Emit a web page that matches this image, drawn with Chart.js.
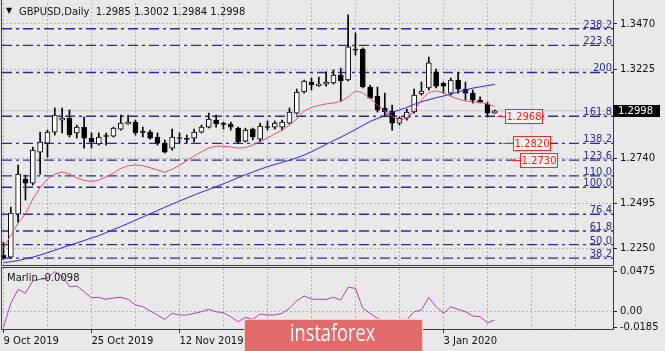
<!DOCTYPE html>
<html>
<head>
<meta charset="utf-8">
<script src="https://cdn.jsdelivr.net/npm/chart.js"></script>
<style>
  html, body { margin: 0; padding: 0; background: #e9e9e9; }
  #wrap { position: relative; width: 665px; height: 351px; overflow: hidden; background: #e9e9e9; font-family: "DejaVu Sans", sans-serif; }
  canvas { position: absolute; left: 0; }
  #main { top: 0; }
  #sub { top: 264px; }
  .txt { position: absolute; font-size: 10px; line-height: 12px; color: #111; white-space: pre; }
  #banner { position: absolute; left: 244px; top: 319px; width: 179px; height: 40px; box-sizing: border-box;
            background: #e26a6a; border: 1px solid #f2cccc; border-radius: 2px; }
  #bannerText { position: absolute; left: 45px; top: 1px; font: 23px "Open Sans", sans-serif; line-height: 23px;
                color: #fff; transform: scaleX(0.79); transform-origin: left top; white-space: pre; }
</style>
</head>
<body>
<div id="wrap">
  <canvas id="main" width="665" height="266"></canvas>
  <canvas id="sub" width="665" height="87"></canvas>
  <div class="txt" style="left:6px; top:5px; font-size:8px;">&#9660;</div>
  <div class="txt" id="title" style="left:19px; top:6px;"></div>
  <div class="txt" id="marlinLabel" style="left:7px; top:272px;"></div>
  <div id="banner"><span id="bannerText">instaforex</span></div>
</div>
<script>
// daily bars, 9 Oct 2019 .. 14 Jan 2020
const dates = [
  '9 Oct 2019', '10 Oct 2019', '11 Oct 2019', '14 Oct 2019', '15 Oct 2019', '16 Oct 2019', '17 Oct 2019', '18 Oct 2019',
  '21 Oct 2019', '22 Oct 2019', '23 Oct 2019', '24 Oct 2019', '25 Oct 2019', '28 Oct 2019', '29 Oct 2019', '30 Oct 2019',
  '31 Oct 2019', '1 Nov 2019', '4 Nov 2019', '5 Nov 2019', '6 Nov 2019', '7 Nov 2019', '8 Nov 2019', '11 Nov 2019',
  '12 Nov 2019', '13 Nov 2019', '14 Nov 2019', '15 Nov 2019', '18 Nov 2019', '19 Nov 2019', '20 Nov 2019', '21 Nov 2019',
  '22 Nov 2019', '25 Nov 2019', '26 Nov 2019', '27 Nov 2019', '28 Nov 2019', '29 Nov 2019', '2 Dec 2019', '3 Dec 2019',
  '4 Dec 2019', '5 Dec 2019', '6 Dec 2019', '9 Dec 2019', '10 Dec 2019', '11 Dec 2019', '12 Dec 2019', '13 Dec 2019',
  '16 Dec 2019', '17 Dec 2019', '18 Dec 2019', '19 Dec 2019', '20 Dec 2019', '23 Dec 2019', '24 Dec 2019', '26 Dec 2019',
  '27 Dec 2019', '30 Dec 2019', '31 Dec 2019', '2 Jan 2020', '3 Jan 2020', '6 Jan 2020', '7 Jan 2020', '8 Jan 2020',
  '9 Jan 2020', '10 Jan 2020', '13 Jan 2020', '14 Jan 2020'
];

const openP = [1.2212, 1.2202, 1.2436, 1.2626, 1.2604, 1.2773, 1.2822, 1.2882, 1.2947, 1.2958,
  1.2877, 1.2909, 1.2849, 1.2817, 1.2862, 1.2860, 1.2898, 1.2926, 1.2936, 1.2884,
  1.2882, 1.2855, 1.2822, 1.2795, 1.2852, 1.2846, 1.2849, 1.2882, 1.2909, 1.2947,
  1.2928, 1.2926, 1.2904, 1.2833, 1.2898, 1.2844, 1.2911, 1.2909, 1.2909, 1.2931,
  1.2985, 1.3100, 1.3154, 1.3134, 1.3143, 1.3149, 1.3192, 1.3165, 1.3334, 1.3334,
  1.3127, 1.3078, 1.3013, 1.2996, 1.2931, 1.2958, 1.2991, 1.3089, 1.3122, 1.3209,
  1.3149, 1.3094, 1.3165, 1.3116, 1.3094, 1.3056, 1.3034, 1.2985];
const highP = [1.2283, 1.2474, 1.2702, 1.2648, 1.2800, 1.2882, 1.2893, 1.3013, 1.3013, 1.3002,
  1.2920, 1.2964, 1.2877, 1.2877, 1.2877, 1.2909, 1.2975, 1.2975, 1.2947, 1.2909,
  1.2893, 1.2877, 1.2839, 1.2898, 1.2877, 1.2866, 1.2898, 1.2920, 1.2985, 1.2975,
  1.2936, 1.2936, 1.2909, 1.2904, 1.2904, 1.2931, 1.2942, 1.2942, 1.2947, 1.3013,
  1.3116, 1.3165, 1.3176, 1.3181, 1.3209, 1.3220, 1.3230, 1.3519, 1.3421, 1.3340,
  1.3138, 1.3127, 1.3094, 1.3029, 1.2964, 1.3007, 1.3116, 1.3154, 1.3290, 1.3225,
  1.3154, 1.3176, 1.3203, 1.3154, 1.3111, 1.3073, 1.3045, 1.3002];
const lowP = [1.2190, 1.2196, 1.2392, 1.2512, 1.2594, 1.2653, 1.2746, 1.2866, 1.2877, 1.2855,
  1.2849, 1.2795, 1.2795, 1.2811, 1.2811, 1.2855, 1.2893, 1.2924, 1.2866, 1.2855,
  1.2844, 1.2811, 1.2768, 1.2784, 1.2822, 1.2822, 1.2828, 1.2877, 1.2904, 1.2909,
  1.2898, 1.2893, 1.2822, 1.2828, 1.2839, 1.2828, 1.2893, 1.2898, 1.2893, 1.2926,
  1.2980, 1.3094, 1.3111, 1.3130, 1.3132, 1.3143, 1.3051, 1.3160, 1.3301, 1.3122,
  1.3067, 1.2991, 1.2969, 1.2893, 1.2920, 1.2947, 1.2985, 1.3083, 1.3111, 1.3122,
  1.3094, 1.3083, 1.3094, 1.3056, 1.3040, 1.3040, 1.2964, 1.2984];
const closeP = [1.2198, 1.2441, 1.2653, 1.2604, 1.2784, 1.2828, 1.2882, 1.2975, 1.2958, 1.2866,
  1.2909, 1.2849, 1.2828, 1.2855, 1.2858, 1.2904, 1.2931, 1.2936, 1.2877, 1.2880,
  1.2849, 1.2822, 1.2773, 1.2855, 1.2847, 1.2842, 1.2882, 1.2909, 1.2953, 1.2926,
  1.2924, 1.2909, 1.2828, 1.2893, 1.2855, 1.2915, 1.2907, 1.2931, 1.2936, 1.2991,
  1.3100, 1.3160, 1.3138, 1.3143, 1.3154, 1.3192, 1.3160, 1.3345, 1.3328, 1.3127,
  1.3067, 1.3002, 1.2991, 1.2931, 1.2958, 1.2991, 1.3083, 1.3105, 1.3258, 1.3132,
  1.3132, 1.3165, 1.3116, 1.3094, 1.3056, 1.3045, 1.2985, 1.2998];

// moving averages
const maFast = [1.2250, 1.2322, 1.2387, 1.2436, 1.2518, 1.2578, 1.2627, 1.2654, 1.2665, 1.2654,
  1.2632, 1.2619, 1.2613, 1.2621, 1.2638, 1.2659, 1.2684, 1.2698, 1.2703, 1.2699,
  1.2688, 1.2676, 1.2663, 1.2680, 1.2701, 1.2726, 1.2752, 1.2775, 1.2795, 1.2805,
  1.2805, 1.2801, 1.2795, 1.2798, 1.2812, 1.2831, 1.2850, 1.2872, 1.2893, 1.2921,
  1.2953, 1.2997, 1.3016, 1.3027, 1.3035, 1.3040, 1.3048, 1.3073, 1.3106, 1.3095,
  1.3065, 1.3029, 1.2997, 1.2967, 1.2945, 1.2959, 1.2997, 1.3057, 1.3097, 1.3106,
  1.3095, 1.3076, 1.3062, 1.3051, 1.3046, 1.3043, 1.3035, 1.3021];
const maSlow = [1.2172, 1.2177, 1.2183, 1.2193, 1.2202, 1.2213, 1.2226, 1.2240, 1.2253, 1.2266,
  1.2279, 1.2292, 1.2306, 1.2319, 1.2335, 1.2352, 1.2368, 1.2385, 1.2403, 1.2420,
  1.2438, 1.2455, 1.2473, 1.2490, 1.2507, 1.2523, 1.2540, 1.2555, 1.2570, 1.2585,
  1.2601, 1.2617, 1.2634, 1.2650, 1.2665, 1.2680, 1.2694, 1.2706, 1.2717, 1.2729,
  1.2742, 1.2757, 1.2775, 1.2795, 1.2815, 1.2835, 1.2854, 1.2875, 1.2896, 1.2918,
  1.2940, 1.2956, 1.2972, 1.2990, 1.3002, 1.3016, 1.3033, 1.3047, 1.3058, 1.3069,
  1.3078, 1.3089, 1.3100, 1.3111, 1.3121, 1.3128, 1.3135, 1.3141];

// Marlin oscillator
const marlin = [-0.0185, 0.0100, 0.0266, 0.0219, 0.0368, 0.0385, 0.0397, 0.0475, 0.0424, 0.0297,
  0.0305, 0.0238, 0.0166, 0.0171, 0.0147, 0.0163, 0.0171, 0.0147, 0.0080, 0.0059,
  0.0012, -0.0039, -0.0090, -0.0019, -0.0039, -0.0039, -0.0019, 0.0000, 0.0029, 0.0000,
  -0.0012, -0.0059, -0.0119, -0.0066, -0.0090, -0.0027, -0.0039, -0.0039, -0.0019, 0.0040,
  0.0131, 0.0186, 0.0151, 0.0147, 0.0147, 0.0171, 0.0139, 0.0290, 0.0278, 0.0040,
  -0.0019, -0.0078, -0.0119, -0.0158, -0.0146, -0.0099, 0.0000, 0.0020, 0.0171, 0.0059,
  -0.0019, 0.0059, 0.0029, 0.0000, -0.0051, -0.0059, -0.0131, -0.0098];

// fibonacci levels
const fibLevels = ['23.6', '38.2', '50.0', '61.8', '76.4', '100.0', '110.0', '123.6', '138.2', '161.8', '200', '223.6', '238.2'];
const fibPrices = [1.2105, 1.2196, 1.2270, 1.2344, 1.2435, 1.2582, 1.2644, 1.2729, 1.2820, 1.2968, 1.3206, 1.3353, 1.3444];
const targets = [1.2968, 1.2820, 1.2730];

const priceTicks = [1.2250, 1.2495, 1.2740, 1.3225, 1.3470];
const marlinTicks = [0.0475, 0, -0.0185];
const gridBars = [0, 6, 12, 18, 24, 30, 36, 42, 48, 54, 60, 66, 72, 78];

// layout
const X_MIN = -0.2, X_MAX = 83.12;
const Y_MIN = 1.2159, Y_MAX = 1.3584;
const SUB_MIN = -0.0205, SUB_MAX = 0.0519;
const TARGET_LINE = [2.4, 8.4, 15.7];
const TARGET_BOX = [10, 18, 25];
const FONT = '10px "DejaVu Sans"';
const last = closeP.length - 1;

document.getElementById('title').textContent =
  'GBPUSD,Daily  ' + [openP[last], highP[last], lowP[last], closeP[last]].map(v => v.toFixed(4)).join(' ');
document.getElementById('marlinLabel').textContent = 'Marlin ' + marlin[last].toFixed(4);

const pts = arr => arr.map((v, i) => ({x: i, y: v}));
const flat = v => [{x: X_MIN, y: v}, {x: X_MAX, y: v}];
const noPad = s => { s.paddingLeft = 0; s.paddingRight = 0; s.paddingTop = 0; s.paddingBottom = 0; };

const mainDecor = {
  id: 'mainDecor',
  afterDatasetsDraw(chart) {
    const {ctx, chartArea: a, scales: {x, y}} = chart;
    ctx.save();
    ctx.font = FONT;
    ctx.beginPath();
    ctx.rect(a.left, 0, a.right - a.left, a.bottom);
    ctx.clip();
    ctx.fillStyle = '#2c2c96';
    ctx.textAlign = 'right';
    ctx.textBaseline = 'alphabetic';
    fibPrices.forEach((p, k) => ctx.fillText(fibLevels[k], a.right - 1, y.getPixelForValue(p) - 1));

    const lastX = x.getPixelForValue(last);
    ctx.lineWidth = 1;
    targets.forEach((p, k) => {
      const py = Math.round(y.getPixelForValue(p)) + 0.5;
      const bx = Math.round(lastX + TARGET_BOX[k]) + 0.5;
      ctx.strokeStyle = '#f02828';
      ctx.beginPath();
      ctx.moveTo(lastX + TARGET_LINE[k], py);
      ctx.lineTo(bx, py);
      ctx.stroke();
      ctx.fillStyle = '#f5f1f1';
      ctx.fillRect(bx, py - 7, 37, 14);
      ctx.strokeRect(bx, py - 7, 37, 14);
      ctx.fillStyle = '#f01e1e';
      ctx.textAlign = 'center';
      ctx.textBaseline = 'middle';
      ctx.fillText(p.toFixed(4), bx + 18.5, py + 0.5);
    });
    ctx.restore();
  },
  afterDraw(chart) {
    const {ctx, chartArea: a, scales: {y}} = chart;
    ctx.save();
    ctx.strokeStyle = '#3a3a3a';
    ctx.lineWidth = 1;
    ctx.beginPath();
    ctx.moveTo(a.left - 0.5, 0);
    ctx.lineTo(a.left - 0.5, a.bottom + 0.5);
    ctx.lineTo(a.right + 0.5, a.bottom + 0.5);
    ctx.lineTo(a.right + 0.5, 0);
    ctx.stroke();
    const cy = Math.round(y.getPixelForValue(closeP[last]));
    ctx.fillStyle = '#000';
    ctx.fillRect(a.right, cy - 6, 47, 12);
    ctx.fillStyle = '#fff';
    ctx.font = FONT;
    ctx.textAlign = 'left';
    ctx.textBaseline = 'middle';
    ctx.fillText(closeP[last].toFixed(4), a.right + 5, cy);
    ctx.restore();
  }
};

const subBorder = {
  id: 'subBorder',
  afterDraw(chart) {
    const {ctx, chartArea: a} = chart;
    ctx.save();
    ctx.strokeStyle = '#3a3a3a';
    ctx.lineWidth = 1;
    ctx.strokeRect(a.left - 0.5, a.top - 0.5, a.right - a.left + 1, a.bottom - a.top + 1);
    ctx.restore();
  }
};

const xScale = (extra) => Object.assign({
  type: 'linear', min: X_MIN, max: X_MAX, bounds: 'data', offset: false,
  afterBuildTicks: s => { s.ticks = gridBars.map(v => ({value: v})); }
}, extra);

new Chart(document.getElementById('main'), {
  type: 'bar',
  data: {
    datasets: [
      ...fibPrices.map(p => ({
        type: 'line', data: flat(p), borderColor: '#2a2aa0', borderWidth: 1.3,
        borderDash: [10, 4, 3, 4], pointRadius: 0, order: 10
      })),
      { type: 'line', data: flat(closeP[last]), borderColor: '#c6c6c6', borderWidth: 1, pointRadius: 0, order: 9 },
      { type: 'bar', data: dates.map((d, i) => ({x: i, y: [lowP[i], highP[i]]})),
        backgroundColor: '#000', barThickness: 1, grouped: false, order: 8 },
      { type: 'bar', data: dates.map((d, i) => ({x: i, y: [openP[i], closeP[i]]})),
        backgroundColor: c => closeP[c.dataIndex] >= openP[c.dataIndex] ? '#fff' : '#000',
        borderColor: '#000', borderWidth: 1, borderSkipped: false, barThickness: 5, minBarLength: 1,
        grouped: false, order: 7 },
      { type: 'line', data: pts(maSlow), borderColor: '#2323ff', borderWidth: 1, pointRadius: 0, order: 2 },
      { type: 'line', data: pts(maFast), borderColor: '#e4506e', borderWidth: 1, pointRadius: 0, order: 1 }
    ]
  },
  options: {
    responsive: false,
    animation: false,
    events: [],
    layout: { padding: { left: 2, top: 3, right: 0, bottom: 1 } },
    plugins: { legend: { display: false }, tooltip: { enabled: false } },
    scales: {
      x: xScale({
        afterFit: s => { s.height = 0; noPad(s); },
        ticks: { display: false },
        grid: { color: '#b4b4b4', drawTicks: false, offset: false },
        border: { display: false, dash: [2, 2] }
      }),
      y: {
        type: 'linear', position: 'right', min: Y_MIN, max: Y_MAX, bounds: 'data',
        afterBuildTicks: s => { s.ticks = priceTicks.map(v => ({value: v})); },
        afterFit: s => { s.width = 52; noPad(s); },
        ticks: { callback: v => v.toFixed(4), color: '#111', font: { family: 'DejaVu Sans', size: 10 }, padding: 3 },
        grid: { color: '#b4b4b4', tickLength: 4, tickColor: '#222' },
        border: { display: false, dash: [2, 2] }
      }
    }
  },
  plugins: [mainDecor]
});

new Chart(document.getElementById('sub'), {
  type: 'line',
  data: {
    datasets: [
      { data: pts(marlin), borderColor: '#b03cb0', borderWidth: 1, pointRadius: 0 }
    ]
  },
  options: {
    responsive: false,
    animation: false,
    events: [],
    layout: { padding: { left: 2, top: 4, right: 0, bottom: 0 } },
    plugins: { legend: { display: false }, tooltip: { enabled: false } },
    scales: {
      x: xScale({
        afterFit: s => { s.height = 22; noPad(s); },
        ticks: {
          callback: v => (v % 12 === 0 && dates[v]) ? dates[v] : '',
          autoSkip: false, maxRotation: 0, align: 'start', padding: 2,
          color: '#111', font: { family: 'DejaVu Sans', size: 10 }
        },
        grid: {
          color: '#b4b4b4', tickLength: 4, offset: false,
          tickColor: c => (c.tick && c.tick.value % 12 === 0 && dates[c.tick.value]) ? '#333' : 'rgba(0,0,0,0)'
        },
        border: { display: false, dash: [2, 2] }
      }),
      y: {
        type: 'linear', position: 'right', min: SUB_MIN, max: SUB_MAX, bounds: 'data',
        afterBuildTicks: s => { s.ticks = marlinTicks.map(v => ({value: v})); },
        afterFit: s => { s.width = 52; noPad(s); },
        ticks: { callback: v => v === 0 ? '0.00' : v.toFixed(4), color: '#111', font: { family: 'DejaVu Sans', size: 10 }, padding: 3 },
        grid: { color: c => (c.tick && c.tick.value === 0) ? '#b4b4b4' : 'rgba(0,0,0,0)', tickLength: 4, tickColor: '#222' },
        border: { display: false, dash: [2, 2] }
      }
    }
  },
  plugins: [subBorder]
});
</script>
</body>
</html>
